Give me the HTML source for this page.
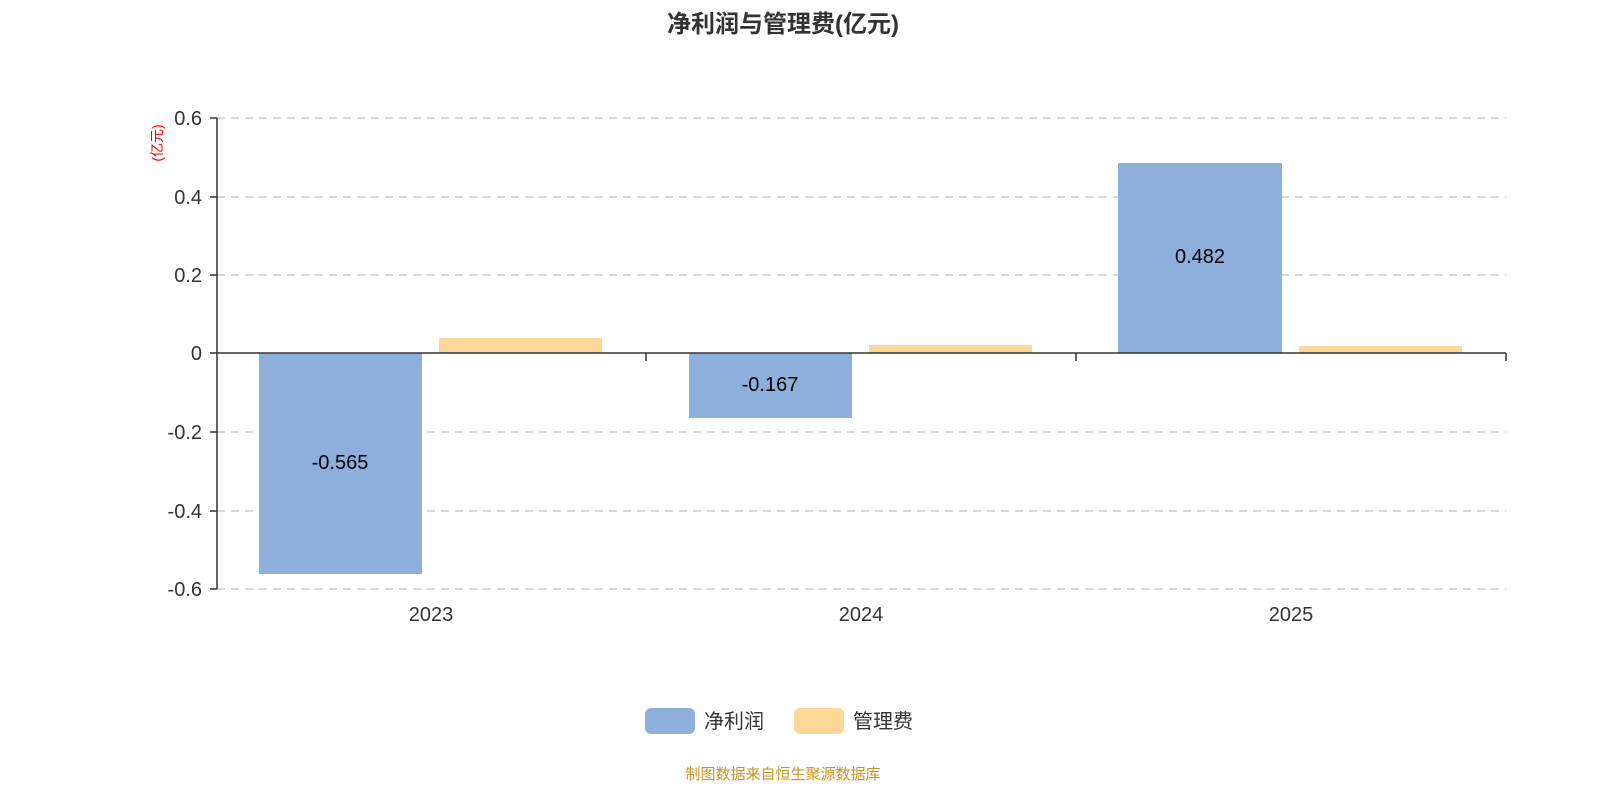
<!DOCTYPE html>
<html><head><meta charset="utf-8"><style>
body{margin:0;width:1600px;height:800px;background:#fff;overflow:hidden}
</style></head><body>
<svg width="1600" height="800" xmlns="http://www.w3.org/2000/svg" font-family="'Liberation Sans','Noto Sans CJK SC',sans-serif">
<text x="783" y="32" text-anchor="middle" font-size="24" font-weight="bold" fill="#333">净利润与管理费(亿元)</text>
<g stroke="#ccc" stroke-dasharray="8,6" stroke-width="1.5">
<line x1="217" y1="118" x2="1506" y2="118"/>
<line x1="217" y1="197" x2="1506" y2="197"/>
<line x1="217" y1="275" x2="1506" y2="275"/>
<line x1="217" y1="432" x2="1506" y2="432"/>
<line x1="217" y1="511" x2="1506" y2="511"/>
<line x1="217" y1="589" x2="1506" y2="589"/>
</g>
<rect x="259" y="353" width="163" height="221" fill="#8eaedb"/>
<rect x="439" y="338" width="163" height="15" fill="#fed899"/>
<rect x="689" y="353" width="163" height="65" fill="#8eaedb"/>
<rect x="869" y="345" width="163" height="8" fill="#fed899"/>
<rect x="1118" y="163" width="164" height="190" fill="#8eaedb"/>
<rect x="1299" y="346" width="163" height="7" fill="#fed899"/>
<g stroke="#333" stroke-width="1.5">
<line x1="217" y1="118" x2="217" y2="589"/>
<line x1="217" y1="353" x2="1506" y2="353"/>
<line x1="210" y1="118" x2="217" y2="118"/>
<line x1="210" y1="197" x2="217" y2="197"/>
<line x1="210" y1="275" x2="217" y2="275"/>
<line x1="210" y1="353" x2="217" y2="353"/>
<line x1="210" y1="432" x2="217" y2="432"/>
<line x1="210" y1="511" x2="217" y2="511"/>
<line x1="210" y1="589" x2="217" y2="589"/>
<line x1="646" y1="353" x2="646" y2="361"/>
<line x1="1076" y1="353" x2="1076" y2="361"/>
<line x1="1506" y1="353" x2="1506" y2="361"/>
</g>
<g font-size="20" fill="#333" text-anchor="end">
<text x="202" y="125">0.6</text>
<text x="202" y="204">0.4</text>
<text x="202" y="282">0.2</text>
<text x="202" y="360">0</text>
<text x="202" y="439">-0.2</text>
<text x="202" y="518">-0.4</text>
<text x="202" y="596">-0.6</text>
</g>
<text transform="translate(162,143) rotate(-90)" text-anchor="middle" font-size="14" fill="#f00">(亿元)</text>
<g font-size="20" fill="#333" text-anchor="middle">
<text x="431" y="621">2023</text>
<text x="861" y="621">2024</text>
<text x="1291" y="621">2025</text>
</g>
<g font-size="20" fill="#000" text-anchor="middle">
<text x="340" y="469">-0.565</text>
<text x="770" y="391">-0.167</text>
<text x="1200" y="263">0.482</text>
</g>
<rect x="645" y="708" width="50" height="26" rx="6" fill="#8eaedb"/>
<text x="704" y="728" font-size="20" fill="#333">净利润</text>
<rect x="794" y="708" width="50" height="26" rx="6" fill="#fed899"/>
<text x="853" y="728" font-size="20" fill="#333">管理费</text>
<text x="783" y="779" text-anchor="middle" font-size="15" fill="#c8961e">制图数据来自恒生聚源数据库</text>
</svg>
</body></html>
